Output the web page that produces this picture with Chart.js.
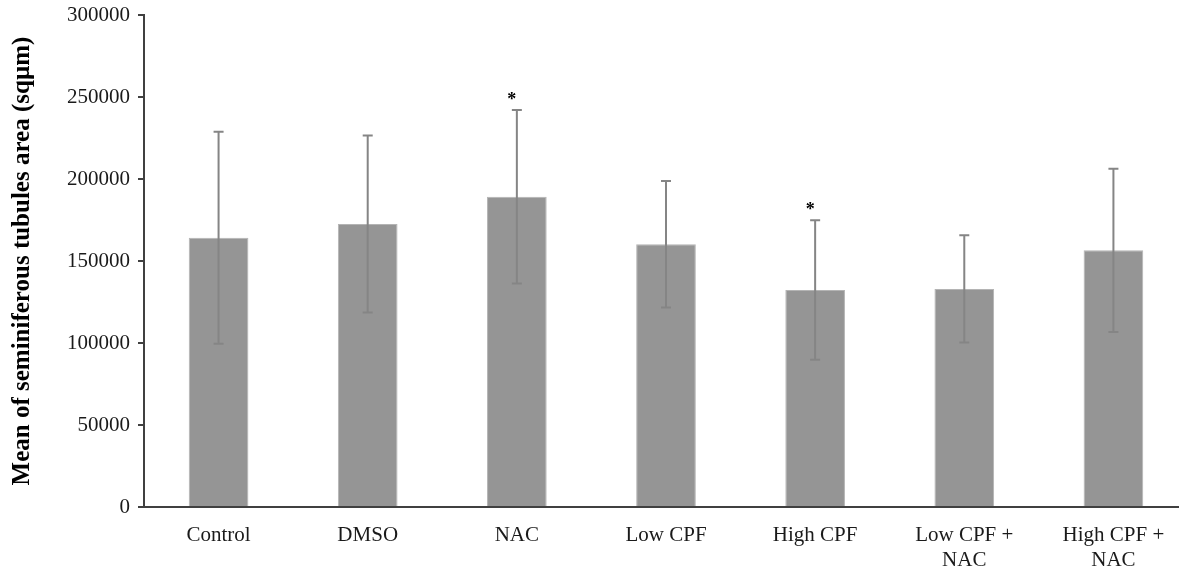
<!DOCTYPE html>
<html>
<head>
<meta charset="utf-8">
<script src="https://cdn.jsdelivr.net/npm/chart.js@4"></script>
<style>
    html, body { margin: 0; padding: 0; background: #fff; overflow: hidden; }
    #wrap { position: relative; width: 1196px; height: 571px; }
</style>
</head>
<body>
<div id="wrap"><canvas id="tubuleChart"></canvas></div>
<script>
// Chart values
const groups = ['Control', 'DMSO', 'NAC', 'Low CPF', 'High CPF', ['Low CPF +', 'NAC'], ['High CPF +', 'NAC']];
const meanArea = [164200, 172600, 189200, 160200, 132300, 133000, 156500];
const sdArea = [64600, 54000, 52900, 38600, 42500, 32700, 49800];
const sigMarks = ['', '', '*', '', '*', '', ''];
const yTicks = [0, 50000, 100000, 150000, 200000, 250000, 300000];

const SERIF = '"Liberation Serif", "Times New Roman", serif';

/**
 * Error bars + significance stars, placed through the y scale
 */
const errorBarPlugin = {
    id: 'errorBars',
    afterDatasetsDraw(chart) {
        const ctx = chart.ctx;
        const y = chart.scales.y;
        const meta = chart.getDatasetMeta(0);
        ctx.save();
        meta.data.forEach((bar, i) => {
            const x = bar.x;
            const top = y.getPixelForValue(meanArea[i] + sdArea[i]);
            const bottom = y.getPixelForValue(meanArea[i] - sdArea[i]);
            ctx.strokeStyle = '#858585';
            ctx.lineWidth = 2;
            ctx.beginPath();
            ctx.moveTo(x, top);
            ctx.lineTo(x, bottom);
            ctx.moveTo(x - 5, top);
            ctx.lineTo(x + 5, top);
            ctx.moveTo(x - 5, bottom);
            ctx.lineTo(x + 5, bottom);
            ctx.stroke();

            if (sigMarks[i]) {
                ctx.fillStyle = '#000';
                ctx.font = 'bold 18px ' + SERIF;
                ctx.textAlign = 'center';
                ctx.textBaseline = 'middle';
                ctx.fillText(sigMarks[i], x - 5, top - 10);
            }
        });
        ctx.restore();
    }
};

new Chart(document.getElementById('tubuleChart'), {
    type: 'bar',
    data: {
        labels: groups,
        datasets: [{
            data: meanArea,
            backgroundColor: '#959595',
            borderColor: '#b4b4b4',
            borderWidth: 1,
            categoryPercentage: 1.0,
            barPercentage: 0.4
        }]
    },
    options: {
        responsive: true,
        maintainAspectRatio: false,
        animation: false,
        layout: { padding: { top: 15, right: 8, left: 0, bottom: 0 } },
        plugins: {
            legend: { display: false },
            tooltip: { enabled: false }
        },
        scales: {
            y: {
                min: 0,
                max: 300000,
                afterBuildTicks: (scale) => { scale.ticks = yTicks.map(v => ({ value: v })); },
                afterFit: (scale) => {
                    scale.width = 144;
                    scale.paddingTop = 0;
                },
                border: { display: true, color: '#404040', width: 2 },
                grid: { display: true, drawOnChartArea: false, drawTicks: true, tickLength: 6, color: '#404040', lineWidth: 2 },
                ticks: {
                    padding: 8,
                    color: '#1a1a1a',
                    font: { family: SERIF, size: 21 },
                    callback: (v) => String(v)
                },
                title: {
                    display: true,
                    text: 'Mean of seminiferous tubules area (sqµm)',
                    color: '#000',
                    font: { family: SERIF, size: 25, weight: 'bold' },
                    padding: { top: 8, bottom: 0 }
                }
            },
            x: {
                afterFit: (scale) => { scale.height = 64; },
                border: { display: true, color: '#404040', width: 2 },
                grid: { display: false },
                ticks: {
                    padding: 8,
                    color: '#1a1a1a',
                    maxRotation: 0,
                    autoSkip: false,
                    font: { family: SERIF, size: 21, lineHeight: 1.2 }
                }
            }
        }
    },
    plugins: [errorBarPlugin]
});
</script>
</body>
</html>
